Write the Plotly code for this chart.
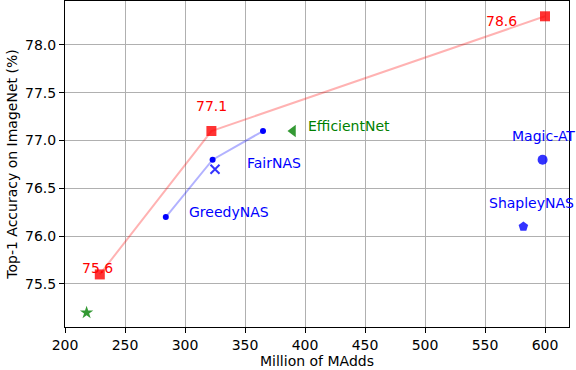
import plotly.graph_objects as go

# our method (red squares, connected)
ours_madds = [229, 322, 600]
ours_acc = [75.6, 77.1, 78.3]
ours_labels = ["75.6", "77.1", "78.6"]

# GreedyNAS family (small blue dots, connected)
greedy_madds = [284, 323, 365]
greedy_acc = [76.2, 76.8, 77.1]

# single models
fair_madds, fair_acc = [325], [76.7]
eff_madds, eff_acc = [390], [77.1]
magic_madds, magic_acc = [598], [76.8]
shapley_madds, shapley_acc = [582], [76.1]
star_madds, star_acc = [218], [75.2]

RED, BLUE, GREEN = "#ff0000", "#0000ff", "#008000"
FONT = "DejaVu Sans"

fig = go.Figure()

fig.add_trace(go.Scatter(
    x=ours_madds, y=ours_acc, mode="lines",
    line=dict(color="rgba(255,0,0,0.3)", width=2)))
fig.add_trace(go.Scatter(
    x=ours_madds, y=ours_acc, mode="markers",
    marker=dict(symbol="square", size=10, color="rgba(255,0,0,0.8)")))

fig.add_trace(go.Scatter(
    x=greedy_madds, y=greedy_acc, mode="lines+markers",
    line=dict(color="rgba(0,0,255,0.3)", width=2),
    marker=dict(size=6, color=BLUE, opacity=1)))

fig.add_trace(go.Scatter(
    x=fair_madds, y=fair_acc, mode="markers",
    marker=dict(symbol="x-thin", size=9, line=dict(color="rgba(0,0,255,0.8)", width=2))))
fig.add_trace(go.Scatter(
    x=eff_madds, y=eff_acc, mode="markers",
    marker=dict(symbol="triangle-left", size=11, color="rgba(0,128,0,0.8)")))
fig.add_trace(go.Scatter(
    x=magic_madds, y=magic_acc, mode="markers",
    marker=dict(symbol="circle", size=10, color="rgba(0,0,255,0.8)")))
fig.add_trace(go.Scatter(
    x=shapley_madds, y=shapley_acc, mode="markers",
    marker=dict(symbol="pentagon", size=10, color="rgba(0,0,255,0.8)")))
fig.add_trace(go.Scatter(
    x=star_madds, y=star_acc, mode="markers",
    marker=dict(symbol="star", size=10, color="rgba(0,128,0,0.8)")))

# value labels next to our points: (xshift, yshift, xanchor)
ours_offsets = [(-2, 6, "center"), (0, 25, "center"), (-26, -5, "right")]
for x, y, t, (dx, dy, anc) in zip(ours_madds, ours_acc, ours_labels, ours_offsets):
    fig.add_annotation(x=x, y=y, text=t, showarrow=False, xanchor=anc,
                       xshift=dx, yshift=dy, font=dict(color=RED, size=14, family=FONT))

names = [
    (greedy_madds[0], greedy_acc[0], "GreedyNAS", BLUE, 21, 5),
    (fair_madds[0], fair_acc[0], "FairNAS", BLUE, 30, 6),
    (eff_madds[0], eff_acc[0], "EfficientNet", GREEN, 13, 5),
    (magic_madds[0], magic_acc[0], "Magic-AT", BLUE, -33, 24),
    (shapley_madds[0], shapley_acc[0], "ShapleyNAS", BLUE, -36, 24),
]
for x, y, t, c, dx, dy in names:
    fig.add_annotation(x=x, y=y, text=t, showarrow=False, xanchor="left",
                       xshift=dx, yshift=dy, font=dict(color=c, size=14, family=FONT))

axis_style = dict(
    showgrid=True, gridcolor="#b0b0b0", gridwidth=1,
    showline=True, linecolor="black", linewidth=1, mirror=True,
    ticks="outside", ticklen=5, tickcolor="black", zeroline=False,
    automargin=False,
    tickfont=dict(size=14, color="black", family=FONT),
)

fig.update_layout(
    width=576, height=370,
    margin=dict(l=65, r=7, t=1, b=43),
    paper_bgcolor="white", plot_bgcolor="white",
    showlegend=False,
    font=dict(family=FONT, size=14, color="black"),
    xaxis=dict(range=[200, 620], tickvals=[200, 250, 300, 350, 400, 450, 500, 550, 600],
               title=dict(text="Million of MAdds", font=dict(size=14), standoff=2), **axis_style),
    yaxis=dict(range=[75.05, 78.46], tickvals=[75.5, 76.0, 76.5, 77.0, 77.5, 78.0],
               tickformat=".1f",
               title=dict(text="Top-1 Accuracy on ImageNet (%)", font=dict(size=14), standoff=4),
               **axis_style),
)

fig.write_html("out.html", config={"displayModeBar": False},
               post_script="document.body.style.margin='0';")
